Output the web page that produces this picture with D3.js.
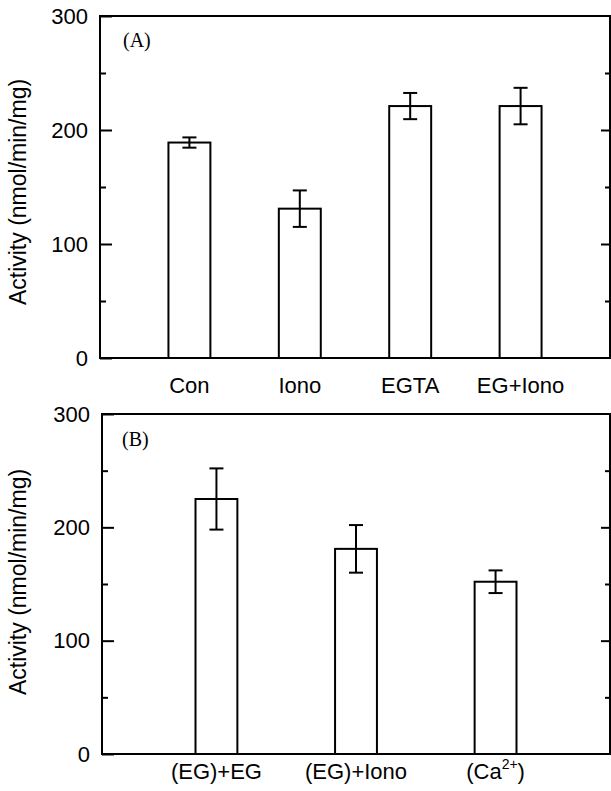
<!DOCTYPE html>
<html>
<head>
<meta charset="utf-8">
<script src="https://cdn.jsdelivr.net/npm/d3@7"></script>
<style>
  html, body { margin: 0; padding: 0; background: #fff; }
  svg { display: block; }
  .tick text { font-family: "Liberation Sans", Arial, sans-serif; }
</style>
</head>
<body>
<svg id="chart" width="611" height="791"></svg>
<script>
// ---- data ----
const categoriesA = ["Con", "Iono", "EGTA", "EG+Iono"];
const valuesA = [189, 131, 221, 221];
const errorsA = [4.5, 16, 11.5, 16];

const categoriesB = ["(EG)+EG", "(EG)+Iono", "(Ca^{2+})"];
const valuesB = [225, 181, 152];
const errorsB = [27, 21, 10];

const majorTicks = [0, 100, 200, 300];
const minorTicks = [50, 150, 250];
const yLabel = "Activity (nmol/min/mg)";
const panelLabels = ["(A)", "(B)"];

// ---- drawing ----
const svg = d3.select("#chart");

function drawPanel(cfg) {
  const { cats, vals, errs, x0, x1, yTop, yBot, padOuter, padInner, labelX, labelY, catBaseline, panelText, panelTextPos } = cfg;
  const g = svg.append("g");
  const x = d3.scaleBand().domain(cats).range([x0, x1]).paddingInner(padInner).paddingOuter(padOuter);
  const y = d3.scaleLinear().domain([0, 300]).range([yBot, yTop]);

  // frame
  g.append("rect")
    .attr("x", x0).attr("y", yTop)
    .attr("width", x1 - x0).attr("height", yBot - yTop)
    .attr("fill", "none").attr("stroke", "#000").attr("stroke-width", 2);

  // left axis major ticks (inward) with labels
  const left = g.append("g").attr("transform", `translate(${x0},0)`)
    .call(d3.axisLeft(y).tickValues(majorTicks).tickSizeInner(-12).tickSizeOuter(0).tickPadding(12).tickFormat(d3.format("d")));
  left.select(".domain").remove();
  left.selectAll("line").attr("stroke-width", 2);
  left.selectAll("text").attr("font-size", 22).attr("fill", "#000");

  // left minor ticks
  const leftMinor = g.append("g").attr("transform", `translate(${x0},0)`)
    .call(d3.axisLeft(y).tickValues(minorTicks).tickSizeInner(-6).tickSizeOuter(0).tickFormat(""));
  leftMinor.select(".domain").remove();
  leftMinor.selectAll("line").attr("stroke-width", 2);

  // right axis ticks (inward, no labels)
  const right = g.append("g").attr("transform", `translate(${x1},0)`)
    .call(d3.axisRight(y).tickValues(majorTicks.filter(d => d > 0 && d < 300)).tickSizeInner(-9).tickSizeOuter(0).tickFormat(""));
  right.select(".domain").remove();
  right.selectAll("line").attr("stroke-width", 2);
  const rightMinor = g.append("g").attr("transform", `translate(${x1},0)`)
    .call(d3.axisRight(y).tickValues(minorTicks).tickSizeInner(-5).tickSizeOuter(0).tickFormat(""));
  rightMinor.select(".domain").remove();
  rightMinor.selectAll("line").attr("stroke-width", 2);

  // bars
  g.selectAll("rect.bar").data(cats).enter().append("rect")
    .attr("class", "bar")
    .attr("x", d => x(d))
    .attr("y", (d, i) => y(vals[i]))
    .attr("width", x.bandwidth())
    .attr("height", (d, i) => y(0) - y(vals[i]))
    .attr("fill", "#fff").attr("stroke", "#000").attr("stroke-width", 2);

  // error bars
  const cap = 7;
  const cx = d => x(d) + x.bandwidth() / 2;
  const eb = g.selectAll("g.err").data(cats).enter().append("g").attr("class", "err");
  eb.append("line")
    .attr("x1", cx).attr("x2", cx)
    .attr("y1", (d, i) => y(vals[i] + errs[i])).attr("y2", (d, i) => y(vals[i] - errs[i]))
    .attr("stroke", "#000").attr("stroke-width", 2);
  eb.append("line")
    .attr("x1", d => cx(d) - cap).attr("x2", d => cx(d) + cap)
    .attr("y1", (d, i) => y(vals[i] + errs[i])).attr("y2", (d, i) => y(vals[i] + errs[i]))
    .attr("stroke", "#000").attr("stroke-width", 2);
  eb.append("line")
    .attr("x1", d => cx(d) - cap).attr("x2", d => cx(d) + cap)
    .attr("y1", (d, i) => y(vals[i] - errs[i])).attr("y2", (d, i) => y(vals[i] - errs[i]))
    .attr("stroke", "#000").attr("stroke-width", 2);

  // category labels (with ^{...} superscript support)
  cats.forEach(c => {
    const t = g.append("text")
      .attr("x", cx(c))
      .attr("y", catBaseline)
      .attr("text-anchor", "middle")
      .attr("font-family", "'Liberation Sans', Arial, sans-serif")
      .attr("font-size", 22)
      .attr("fill", "#000");
    const parts = c.split(/(\^\{[^}]*\})/).filter(s => s.length);
    let raised = false;
    parts.forEach(p => {
      if (p.startsWith("^{")) {
        t.append("tspan").attr("dy", -10).attr("font-size", 14).text(p.slice(2, -1));
        raised = true;
      } else {
        const ts = t.append("tspan").text(p);
        if (raised) { ts.attr("dy", 10); raised = false; }
      }
    });
  });

  // y axis title
  g.append("text")
    .attr("transform", `translate(${labelX},${labelY}) rotate(-90)`)
    .attr("text-anchor", "middle")
    .attr("font-family", "'Liberation Sans', Arial, sans-serif")
    .attr("font-size", 23)
    .attr("fill", "#000")
    .text(yLabel);

  // panel letter
  g.append("text")
    .attr("x", panelTextPos[0]).attr("y", panelTextPos[1])
    .attr("font-family", "'Liberation Serif', 'Times New Roman', serif")
    .attr("font-size", 20)
    .attr("fill", "#000")
    .text(panelText);
}

drawPanel({
  cats: categoriesA, vals: valuesA, errs: errorsA,
  x0: 100, x1: 610, yTop: 16, yBot: 358,
  padInner: 0.62, padOuter: 0.62,
  labelX: 26, labelY: 192,
  catBaseline: 393,
  panelText: panelLabels[0], panelTextPos: [123, 47]
});

drawPanel({
  cats: categoriesB, vals: valuesB, errs: errorsB,
  x0: 102, x1: 610, yTop: 414, yBot: 754,
  padInner: 0.70, padOuter: 0.67,
  labelX: 26, labelY: 582,
  catBaseline: 779,
  panelText: panelLabels[1], panelTextPos: [122, 446]
});
</script>
</body>
</html>
